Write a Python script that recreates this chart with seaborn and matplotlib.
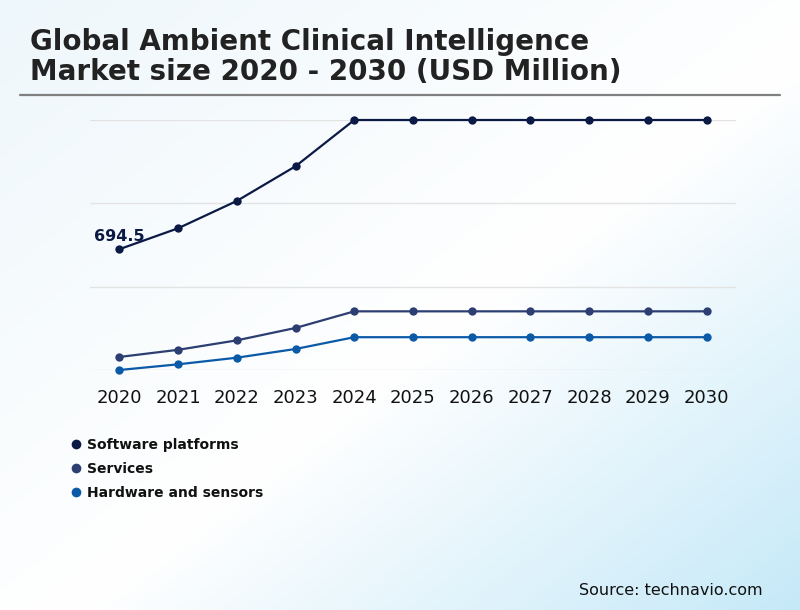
import numpy as np
import pandas as pd
import matplotlib
matplotlib.use("Agg")
from matplotlib import pyplot as plt
from matplotlib.colors import LinearSegmentedColormap
from matplotlib.lines import Line2D
import seaborn as sns

years = [2020, 2021, 2022, 2023, 2024, 2025, 2026, 2027, 2028, 2029, 2030]
segments = ["Software platforms", "Services", "Hardware and sensors"]
software = [694.5, 794, 924, 1089, 1309, 1309, 1309, 1309, 1309, 1309, 1309]
services = [182, 216, 261, 320, 399, 399, 399, 399, 399, 399, 399]
hardware = [120, 147, 178.5, 220, 276, 276, 276, 276, 276, 276, 276]
colors = ["#0b1a45", "#2c3e72", "#0b5aa8"]

df = pd.DataFrame({
    "year": years * 3,
    "value": software + services + hardware,
    "segment": [s for s in segments for _ in years],
})

sns.set_theme(style="white")
plt.rcParams["font.family"] = ["DejaVu Sans"]

fig = plt.figure(figsize=(8, 6.1), dpi=100)

# background gradient (top-left pale, middle white, bottom-right light blue)
bg = fig.add_axes([0, 0, 1, 1], zorder=0)
gx, gy = np.meshgrid(np.linspace(0, 1, 400), np.linspace(0, 1, 305))
grad = (gx + gy) / 2
cmap = LinearSegmentedColormap.from_list("bg", [(0, "#eef7fb"), (0.55, "#ffffff"), (1, "#c6e9f8")])
bg.imshow(grad, cmap=cmap, aspect="auto", extent=[0, 1, 0, 1], origin="upper")
bg.set_xlim(0, 1)
bg.set_ylim(0, 1)
bg.axis("off")

ax = fig.add_axes([90 / 800, 1 - 370 / 610, 646 / 800, 250 / 610], zorder=1)
ax.patch.set_alpha(0)

sns.lineplot(data=df, x="year", y="value", hue="segment", palette=colors,
             marker="o", markersize=6, markeredgewidth=0, linewidth=1.6,
             ax=ax, legend=False, clip_on=False)

vmin, vmax = min(hardware), max(software)
ax.set_ylim(vmin, vmax)
ax.set_yticks(np.linspace(vmin, vmax, 4))
ax.set_yticklabels([])
ax.set_xlim(years[0] - 0.5, years[-1] + 0.5)
ax.set_xticks(years)
ax.set_xticklabels([str(y) for y in years], fontsize=13, color="#111111")
ax.tick_params(axis="x", length=0, pad=14)
ax.tick_params(axis="y", length=0)
ax.grid(axis="y", color="#e3e3e3", linewidth=1)
ax.grid(axis="x", visible=False)
for sp in ax.spines.values():
    sp.set_visible(False)
ax.set_xlabel("")
ax.set_ylabel("")

ax.annotate(f"{software[0]}", (years[0], software[0]), xytext=(0, 3.5), textcoords="offset points",
            ha="center", va="bottom", fontsize=11.5, fontweight="bold", color=colors[0])

# title and rule
fig.text(30 / 800, 1 - 50 / 610, "Global Ambient Clinical Intelligence",
         fontsize=20, fontweight="bold", color="#222222", ha="left", va="baseline")
fig.text(30 / 800, 1 - 80 / 610, "Market size 2020 - 2030 (USD Million)",
         fontsize=20, fontweight="bold", color="#222222", ha="left", va="baseline")
fig.add_artist(Line2D([20 / 800, 780 / 800], [1 - 95 / 610] * 2, color="#808080", linewidth=1.6))

# legend
handles = [Line2D([], [], linestyle="none", marker="o", markersize=7, markeredgewidth=0, color=c) for c in colors]
leg = fig.legend(handles, segments, loc="upper left", bbox_to_anchor=(55 / 800, 1 - 425 / 610),
                 frameon=False, prop={"weight": "bold", "size": 10}, handletextpad=0.2,
                 labelspacing=0.75, handlelength=1.2, labelcolor="#111111")

fig.text(763 / 800, 1 - 595 / 610, "Source: technavio.com", fontsize=11.5, color="#111111", ha="right", va="baseline")

plt.savefig("out.png", dpi=100)
